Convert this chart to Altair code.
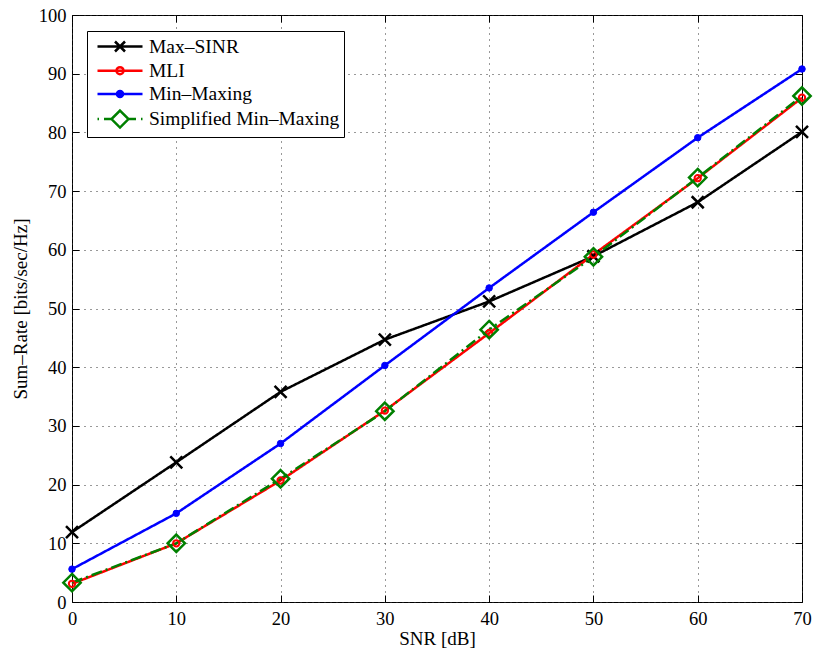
import altair as alt
import pandas as pd

snr = [0, 10, 20, 30, 40, 50, 60, 70]
max_sinr = [11.9, 23.8, 35.8, 44.7, 51.2, 58.9, 68.1, 80.1]
mli = [3.1, 10.0, 20.7, 32.6, 45.8, 59.2, 72.2, 85.9]
min_maxing = [5.6, 15.1, 27.0, 40.3, 53.5, 66.4, 79.1, 90.8]
simplified = [3.3, 10.0, 21.0, 32.5, 46.4, 58.8, 72.3, 86.2]

series = ["Max–SINR", "MLI", "Min–Maxing", "Simplified Min–Maxing"]
colors = ["#000000", "#ff0000", "#0000ff", "#008000"]
dashes = [[1, 0], [1, 0], [1, 0], [11, 4, 2, 4]]
marker_shapes = ["M-1,-1L1,1M-1,1L1,-1", "circle", "circle", "M0,-1L1,0L0,1L-1,0Z"]
marker_sizes = [144, 40, 42, 300]
marker_fills = ["transparent", "transparent", "#0000ff", "transparent"]
marker_widths = [2.5, 2, 1, 2.5]
legend_paths = [
    "M-1,0L3.5,0M0.75,-0.5L1.75,0.5M0.75,0.5L1.75,-0.5",
    "M-1,0L3.5,0M1.6,0A0.35,0.35 0 1,1 0.9,0A0.35,0.35 0 1,1 1.6,0",
    "M-1,0L3.5,0M1.55,0A0.3,0.3 0 1,1 0.95,0A0.3,0.3 0 1,1 1.55,0",
    "M-1,0L-0.85,0M-0.35,0L0.4,0M1.25,-0.85L2.1,0L1.25,0.85L0.4,0ZM2.1,0L2.85,0M3.35,0L3.5,0",
]

xticks = list(range(0, 71, 10))
yticks = list(range(0, 101, 10))
FONT = "Liberation Serif, Times New Roman, serif"

rows = []
for name, vals in zip(series, [max_sinr, mli, min_maxing, simplified]):
    for x, v in zip(snr, vals):
        rows.append({"snr": x, "rate": v, "series": name})
df = pd.DataFrame(rows)

xs = alt.Scale(domain=[0, 70], nice=False, zero=False)
ys = alt.Scale(domain=[0, 100], nice=False)

base = alt.Chart(df)

xaxis = alt.Axis(orient="bottom", values=xticks, title="SNR [dB]", grid=True,
                 gridDash=[1, 5], gridColor="#333333", gridOpacity=1, ticks=False,
                 domain=False, labelFont=FONT, labelFontSize=18.5, labelColor="black",
                 titleFont=FONT, titleFontSize=19, titleFontWeight="normal",
                 titleColor="black", labelPadding=7, titlePadding=2, labelFlush=False)
yaxis = alt.Axis(orient="left", values=yticks, title="Sum–Rate [bits/sec/Hz]", grid=True,
                 gridDash=[1, 5], gridColor="#333333", gridOpacity=1, ticks=False,
                 domain=False, labelFont=FONT, labelFontSize=18.5, labelColor="black",
                 titleFont=FONT, titleFontSize=19, titleFontWeight="normal",
                 titleColor="black", labelPadding=6, titlePadding=8, labelFlush=False)

lines = base.mark_line(strokeWidth=2.5).encode(
    x=alt.X("snr:Q", scale=xs, axis=xaxis),
    y=alt.Y("rate:Q", scale=ys, axis=yaxis),
    color=alt.Color("series:N", scale=alt.Scale(domain=series, range=colors), legend=None),
    strokeDash=alt.StrokeDash("series:N", scale=alt.Scale(domain=series, range=dashes), legend=None),
)

pts = base.mark_point(opacity=1).encode(
    x=alt.X("snr:Q", scale=xs, axis=None),
    y=alt.Y("rate:Q", scale=ys, axis=None),
    color=alt.Color("series:N", scale=alt.Scale(domain=series, range=colors), legend=None),
    shape=alt.Shape("series:N", scale=alt.Scale(domain=series, range=marker_shapes), legend=None),
    size=alt.Size("series:N", scale=alt.Scale(type="ordinal", domain=series, range=marker_sizes), legend=None),
    fill=alt.Fill("series:N", scale=alt.Scale(domain=series, range=marker_fills), legend=None),
    strokeWidth=alt.StrokeWidth("series:N", scale=alt.Scale(type="ordinal", domain=series, range=marker_widths), legend=None),
)

tick_common = dict(domain=False, labels=False, title=None, grid=False, ticks=True,
                   tickSize=7, tickColor="black", tickWidth=1, offset=-7)
ticks1 = base.mark_point(opacity=0).encode(
    x=alt.X("snr:Q", scale=xs, axis=alt.Axis(orient="bottom", values=xticks, **tick_common)),
    y=alt.Y("rate:Q", scale=ys, axis=alt.Axis(orient="left", values=yticks, **tick_common)),
)
ticks2 = base.mark_point(opacity=0).encode(
    x=alt.X("snr:Q", scale=xs, axis=alt.Axis(orient="top", values=xticks, **tick_common)),
    y=alt.Y("rate:Q", scale=ys, axis=alt.Axis(orient="right", values=yticks, **tick_common)),
)

leg_props = dict(orient="none", legendX=15, legendY=16, title=None, labelFont=FONT,
                 labelFontSize=19.5, labelColor="black", symbolSize=400,
                 symbolStrokeWidth=2.5, strokeColor="black", fillColor="white",
                 padding=4, rowPadding=2.2, labelOffset=30, symbolOffset=5,
                 labelLimit=400, symbolOpacity=1)
legend_layer = base.transform_filter("datum.snr < 0").mark_point(opacity=1).encode(
    color=alt.Color("series:N", scale=alt.Scale(domain=series, range=colors), legend=alt.Legend(**leg_props)),
    shape=alt.Shape("series:N", scale=alt.Scale(domain=series, range=legend_paths), legend=alt.Legend(**leg_props)),
    fill=alt.Fill("series:N", scale=alt.Scale(domain=series, range=marker_fills), legend=alt.Legend(**leg_props)),
)

chart = alt.layer(lines, pts, ticks1, ticks2, legend_layer).resolve_scale(
    color="independent", shape="independent", fill="independent", size="independent",
    strokeDash="independent", strokeWidth="independent",
).resolve_axis(x="independent", y="independent").properties(
    width=730, height=587,
    autosize=alt.AutoSizeParams(type="none"),
    padding={"left": 72, "top": 15, "right": 13, "bottom": 48},
    background="white",
).configure_view(stroke="black", strokeWidth=1)

chart.save("out.html", embed_options={"renderer": "svg", "actions": False})
